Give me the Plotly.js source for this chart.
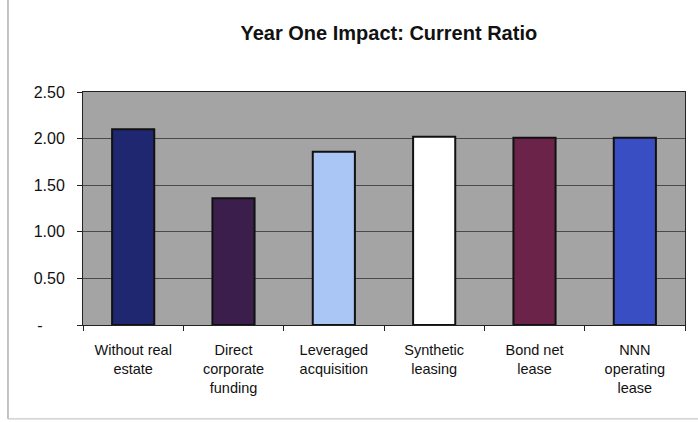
<!DOCTYPE html>
<html>
<head>
<meta charset="utf-8">
<script src="https://cdn.plot.ly/plotly-3.0.1.min.js"></script>
<style>
html,body{margin:0;padding:0;background:#fff;}
#chart{width:698px;height:422px;}
</style>
</head>
<body>
<div id="chart"></div>
<script>
const categories = ["Without real<br>estate", "Direct<br>corporate<br>funding", "Leveraged<br>acquisition", "Synthetic<br>leasing", "Bond net<br>lease", "NNN<br>operating<br>lease"];
const values = [2.10, 1.36, 1.86, 2.02, 2.01, 2.01];
const barColors = ["#1f2770", "#3b1e4c", "#a9c6f5", "#ffffff", "#6b2349", "#3a4ec4"];
const yTickVals = [0, 0.5, 1.0, 1.5, 2.0, 2.5];
const yTickText = ["-&nbsp;&nbsp;&nbsp;&nbsp;&nbsp;", "0.50", "1.00", "1.50", "2.00", "2.50"];

const trace = {
  type: "bar",
  x: categories,
  y: values,
  marker: {color: barColors, line: {color: "#111", width: 2}},
  hoverinfo: "none"
};

const layout = {
  width: 698, height: 422,
  margin: {l: 83, r: 13, t: 92, b: 97},
  paper_bgcolor: "#ffffff",
  plot_bgcolor: "#a4a4a4",
  font: {family: "Liberation Sans, Arial, sans-serif", color: "#111", size: 14.5},
  title: {text: "<b>Year One Impact: Current Ratio</b>", font: {size: 20, color: "#111"}, x: 0.508, xanchor: "center", xref: "paper", y: 0.922, yanchor: "middle"},
  bargap: 0.58,
  showlegend: false,
  xaxis: {
    type: "category",
    showline: true, linecolor: "#222", linewidth: 1, mirror: true,
    ticks: "outside", tickson: "boundaries", ticklen: 5, tickcolor: "#222",
    showgrid: false,
    ticklabelstandoff: 12,
    tickfont: {size: 14.5}
  },
  yaxis: {
    range: [0, 2.5],
    tickvals: yTickVals, ticktext: yTickText,
    showline: true, linecolor: "#222", linewidth: 1, mirror: true,
    ticks: "outside", ticklen: 5, tickcolor: "#222",
    showgrid: true, gridcolor: "#4a4a4a", gridwidth: 1,
    zeroline: false,
    ticklabelstandoff: 9,
    tickfont: {size: 16}
  },
  shapes: [
    {type: "line", xref: "paper", yref: "paper", x0: -0.1246, x1: -0.1246, y0: -0.403, y1: 1.40, line: {color: "#888", width: 1}},
    {type: "line", xref: "paper", yref: "paper", x0: -0.1246, x1: 1.03, y0: -0.403, y1: -0.403, line: {color: "#bbb", width: 1}}
  ]
};

Plotly.newPlot("chart", [trace], layout, {displayModeBar: false, staticPlot: true});
</script>
</body>
</html>
